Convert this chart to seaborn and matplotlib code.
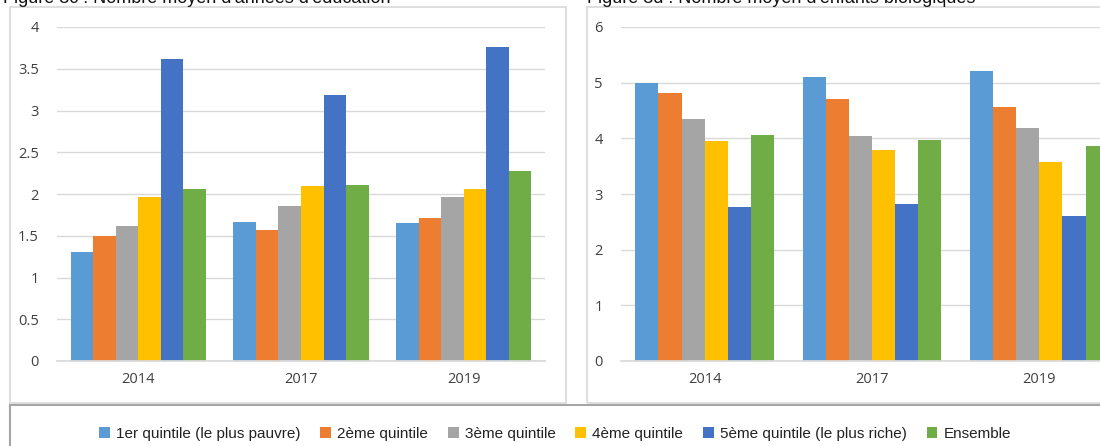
import pandas as pd
import matplotlib
matplotlib.use("Agg")
import matplotlib.pyplot as plt
from matplotlib.patches import Rectangle
import seaborn as sns

# data
years = ["2014", "2017", "2019"]
groups = [
    "1er quintile (le plus pauvre)",
    "2ème quintile",
    "3ème quintile",
    "4ème quintile",
    "5ème quintile (le plus riche)",
    "Ensemble",
]
education = {
    "2014": [1.30, 1.50, 1.62, 1.96, 3.62, 2.06],
    "2017": [1.67, 1.57, 1.86, 2.09, 3.18, 2.11],
    "2019": [1.65, 1.71, 1.96, 2.06, 3.76, 2.28],
}
children = {
    "2014": [5.00, 4.81, 4.34, 3.95, 2.76, 4.06],
    "2017": [5.10, 4.70, 4.05, 3.79, 2.82, 3.97],
    "2019": [5.21, 4.56, 4.18, 3.58, 2.60, 3.87],
}
titles = [
    "Figure 3c : Nombre moyen d'années d'éducation",
    "Figure 3d : Nombre moyen d'enfants biologiques",
]
colors = ["#5B9BD5", "#ED7D31", "#A5A5A5", "#FFC000", "#4472C4", "#70AD47"]


def to_long(values):
    rows = []
    for y in years:
        for g, v in zip(groups, values[y]):
            rows.append({"year": y, "group": g, "value": v})
    return pd.DataFrame(rows)


sns.set_theme(style="white")
plt.rcParams["font.family"] = ["Liberation Sans", "DejaVu Sans"]

W, H = 1100, 446
fig = plt.figure(figsize=(W / 100, H / 100), dpi=100)


def px_axes(x0, x1, y0, y1):
    return fig.add_axes([x0 / W, 1 - y1 / H, (x1 - x0) / W, (y1 - y0) / H])


# panel frames
for x0, x1 in [(10, 566), (587, 1130)]:
    fig.patches.append(Rectangle((x0 / W, 1 - 403 / H), (x1 - x0) / W, 396 / H,
                                 transform=fig.transFigure, fill=False,
                                 edgecolor="#d9d9d9", lw=1.2))
fig.patches.append(Rectangle((10 / W, -0.05), 1.2, (0.05 + 1 - 405 / H),
                             transform=fig.transFigure, fill=False,
                             edgecolor="#a6a6a6", lw=1.5))

ax1 = px_axes(57, 545, 27, 361)
ax2 = px_axes(621, 1123, 27, 361)

for ax, data, ymax, title, tx in [
    (ax1, education, 4, titles[0], 3),
    (ax2, children, 6, titles[1], 587),
]:
    df = to_long(data)
    sns.barplot(data=df, x="year", y="value", hue="group", hue_order=groups,
                palette=colors, width=0.83, saturation=1, ax=ax,
                linewidth=0, edgecolor="none", legend=True)
    ax.set_xlim(-0.5, 2.5)
    ax.set_ylim(0, ymax)
    if ymax == 4:
        ax.set_yticks([0, 0.5, 1, 1.5, 2, 2.5, 3, 3.5, 4])
        ax.set_yticklabels(["0", "0.5", "1", "1.5", "2", "2.5", "3", "3.5", "4"])
    else:
        ax.set_yticks(range(0, 7))
    ax.yaxis.grid(True, color="#d9d9d9", lw=1)
    ax.set_axisbelow(True)
    for s in ["top", "right", "left"]:
        ax.spines[s].set_visible(False)
    ax.spines["bottom"].set_color("#d9d9d9")
    ax.tick_params(axis="both", length=0, labelsize=10.5, colors="#404040")
    for lab in ax.get_xticklabels() + ax.get_yticklabels():
        lab.set_family(["Open Sans", "DejaVu Sans"])
    ax.tick_params(axis="y", pad=13)
    ax.tick_params(axis="x", pad=8)
    ax.set_xlabel("")
    ax.set_ylabel("")
    handles, labels = ax.get_legend_handles_labels()
    ax.get_legend().remove()
    fig.text(tx / W, 1 - 7 / H, title, fontsize=13, color="#111111",
             ha="left", va="bottom")

fig.legend(handles, labels, loc="center", bbox_to_anchor=(555 / W, 1 - 434 / H),
           ncol=6, frameon=False, fontsize=11, handlelength=0.7,
           handleheight=0.7, handletextpad=0.4, columnspacing=1.3,
           labelcolor="#222222")

fig.savefig("out.png", dpi=100)
